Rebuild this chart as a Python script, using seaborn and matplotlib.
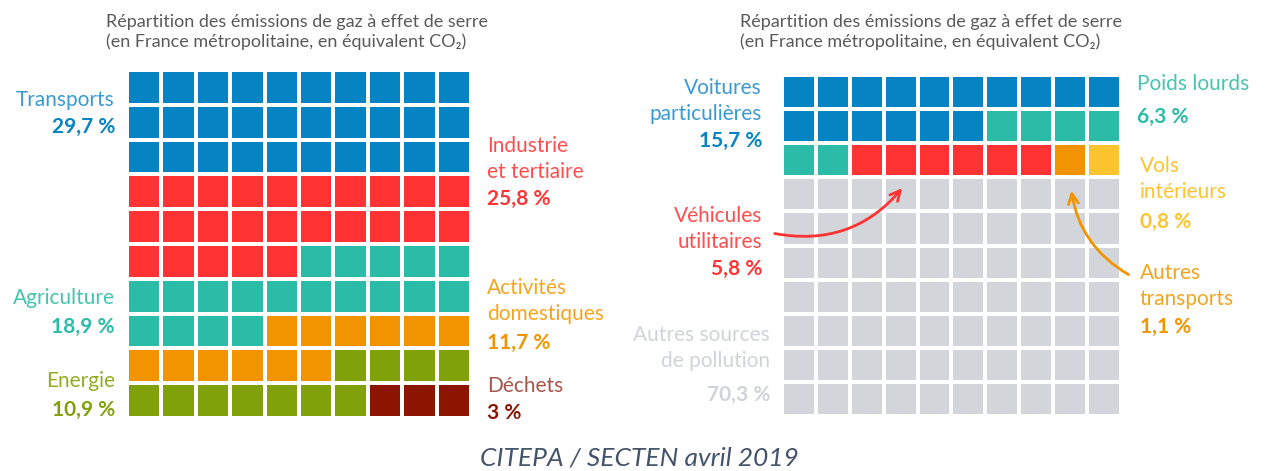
import numpy as np
import seaborn as sns
import matplotlib.pyplot as plt
from matplotlib.colors import ListedColormap

# left waffle: all sectors
secteurs = ["Transports", "Industrie\net tertiaire", "Agriculture", "Activités\ndomestiques", "Energie", "Déchets"]
secteurs_pct = ["29,7 %", "25,8 %", "18,9 %", "11,7 %", "10,9 %", "3 %"]
secteurs_cases = [30, 25, 19, 12, 11, 3]
secteurs_couleurs = ["#0583c2", "#ff3333", "#2bbca8", "#f29400", "#80a10a", "#8b1500"]

# right waffle: transport detail
transports = ["Voitures\nparticulières", "Poids lourds", "Véhicules\nutilitaires", "Autres\ntransports", "Vols\nintérieurs", "Autres sources\nde pollution"]
transports_pct = ["15,7 %", "6,3 %", "5,8 %", "1,1 %", "0,8 %", "70,3 %"]
transports_cases = [16, 6, 6, 1, 1, 70]
transports_couleurs = ["#0583c2", "#2bbca8", "#ff3333", "#f29400", "#fec42f", "#d2d5da"]

titre = "Répartition des émissions de gaz à effet de serre\n(en France métropolitaine, en équivalent CO₂)"
source = "CITEPA / SECTEN avril 2019"

sns.set_theme(style="white")
plt.rcParams['font.family'] = ['Lato', 'DejaVu Sans']

W, H = 1278, 471
fig = plt.figure(figsize=(W / 100, H / 100), dpi=100)


def grille(cases):
    codes = np.repeat(np.arange(len(cases)), cases)
    return codes.reshape(10, 10)


def waffle(ax, cases, couleurs):
    sns.heatmap(grille(cases), ax=ax, cmap=ListedColormap(couleurs), cbar=False,
                vmin=-0.5, vmax=len(couleurs) - 0.5,
                linewidths=1.6, linecolor="white",
                xticklabels=False, yticklabels=False)
    ax.set_axis_off()


def px(x, y):
    return x / W, 1 - y / H


def label(x, y, nom, pct, c_nom, c_pct, ha="left", pct_dy=27):
    lignes = nom.split("\n")
    for i, l in enumerate(lignes):
        fig.text(*px(x, y + i * 26), l, color=c_nom, fontsize=15, ha=ha, va="center")
    fig.text(*px(x, y + (len(lignes) - 1) * 26 + pct_dy), pct, color=c_pct,
             fontsize=15, fontweight="bold", ha=ha, va="center")


ax1 = fig.add_axes([127 / W, (H - 418) / H, 344 / W, 348 / H])
waffle(ax1, secteurs_cases, secteurs_couleurs)

ax2 = fig.add_axes([782 / W, (H - 416) / H, 339 / W, 341 / H])
waffle(ax2, transports_cases, transports_couleurs)

fig.text(*px(106, 32), titre, color="#5a5a5a", fontsize=13, ha="left", va="center", linespacing=1.3)
fig.text(*px(740, 32), titre, color="#5a5a5a", fontsize=13, ha="left", va="center", linespacing=1.3)

# left labels
label(115, 100, secteurs[0], secteurs_pct[0], "#3a9ad6", "#0583c2", ha="right")
label(487, 146, secteurs[1], secteurs_pct[1], "#ff4d4d", "#ff3333")
label(115, 298, secteurs[2], secteurs_pct[2], "#45c4b0", "#2bbca8", ha="right", pct_dy=29)
label(487, 288, secteurs[3], secteurs_pct[3], "#f5a41f", "#f29400", pct_dy=29)
label(115, 381, secteurs[4], secteurs_pct[4], "#8fae22", "#80a10a", ha="right", pct_dy=29)
label(487, 386, secteurs[5], secteurs_pct[5], "#a8554a", "#8b1500")

# right labels
label(762, 88, transports[0], transports_pct[0], "#3a9ad6", "#0583c2", ha="right")
label(1137, 84, transports[1], transports_pct[1], "#45c4b0", "#2bbca8", pct_dy=33)
label(762, 216, transports[2], transports_pct[2], "#ff4d4d", "#ff3333", ha="right")
label(1140, 273, transports[3], transports_pct[3], "#f5a41f", "#f29400", pct_dy=28)
label(1140, 166, transports[4], transports_pct[4], "#fec42f", "#fec42f", pct_dy=30)
label(770, 335, transports[5], transports_pct[5], "#d0d3d8", "#d0d3d8", ha="right", pct_dy=34)

# arrows
ax2.annotate("", xy=px(904, 186), xytext=px(772, 233), xycoords=fig.transFigure,
             textcoords=fig.transFigure, annotation_clip=False,
             arrowprops=dict(arrowstyle="->", color="#ff3333", lw=2,
                             connectionstyle="arc3,rad=0.3", mutation_scale=18))
ax2.annotate("", xy=px(1071, 188), xytext=px(1131, 276), xycoords=fig.transFigure,
             textcoords=fig.transFigure, annotation_clip=False,
             arrowprops=dict(arrowstyle="->", color="#f29400", lw=2,
                             connectionstyle="arc3,rad=-0.25", mutation_scale=18))

fig.text(0.5, 1 - 458 / H, source, color="#44546a", fontsize=19, style="italic",
         ha="center", va="center")

fig.savefig("out.png", dpi=100, facecolor="white")
